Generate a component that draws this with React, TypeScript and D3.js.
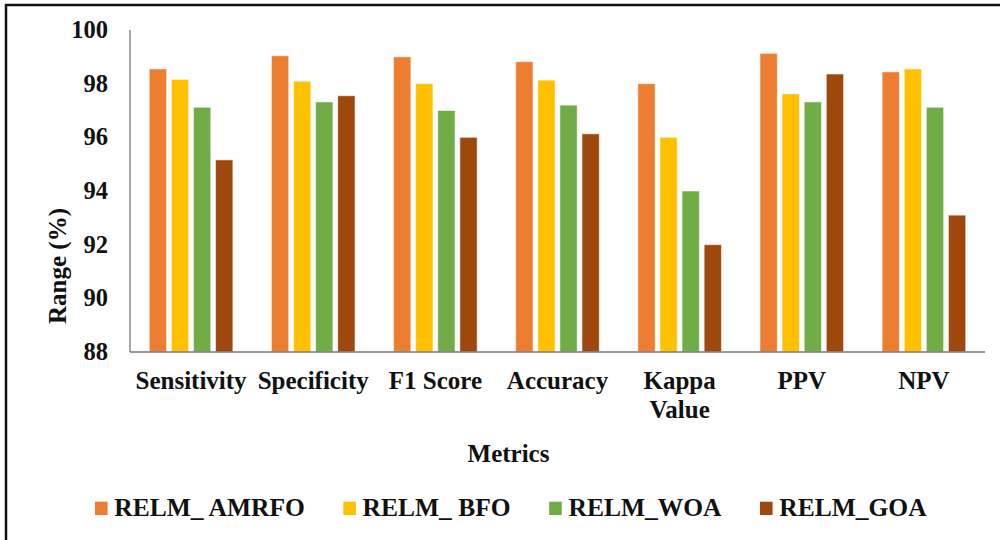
import React, { useEffect, useRef } from "react";
import * as d3 from "d3";

const categories = ["Sensitivity", "Specificity", "F1 Score", "Accuracy", "Kappa Value", "PPV", "NPV"];
const categoryLines = [["Sensitivity"], ["Specificity"], ["F1 Score"], ["Accuracy"], ["Kappa", "Value"], ["PPV"], ["NPV"]];
const seriesNames = ["RELM_ AMRFO", "RELM_ BFO", "RELM_WOA", "RELM_GOA"];
const seriesColors = ["#ED7D31", "#FFC000", "#70AD47", "#9E480E"];
const amrfo = [98.55, 99.04, 99.0, 98.82, 98.0, 99.13, 98.44];
const bfo = [98.16, 98.09, 98.0, 98.13, 96.0, 97.62, 98.55];
const woa = [97.12, 97.32, 97.0, 97.2, 94.0, 97.32, 97.12];
const goa = [95.16, 97.55, 96.0, 96.13, 92.0, 98.36, 93.1];
const yTicks = [88, 90, 92, 94, 96, 98, 100];

const FONT = "'Liberation Serif', 'Times New Roman', Times, serif";

export default function App() {
  const ref = useRef<SVGGElement>(null);
  const W = 1000, H = 540;
  const x0 = 130, x1 = 985, yTop = 30, yBase = 352;
  const y = d3.scaleLinear().domain([88, 100]).range([yBase, yTop]);
  const xb = d3.scaleBand<string>().domain(categories).range([x0, x1]).padding(0);
  const xs = d3.scaleBand<string>().domain(seriesNames).range([-41.8, 41.8]).paddingInner(0.217).paddingOuter(0);
  const allSeries = [amrfo, bfo, woa, goa];
  const textStyle = { fontFamily: FONT, fontWeight: 700 as const };

  useEffect(() => {
    const lg = d3.select(ref.current);
    const items: { g: any; w: number }[] = [];
    lg.selectAll<SVGGElement, unknown>("g.item").each(function () {
      const t = d3.select(this).select("text").node() as SVGTextElement;
      items.push({ g: d3.select(this), w: 19.3 + t.getComputedTextLength() });
    });
    const gap = 38.5;
    const total = items.reduce((s, it) => s + it.w, 0) + gap * (items.length - 1);
    let cur = 510.8 - total / 2;
    items.forEach((it) => {
      it.g.attr("transform", `translate(${cur},516)`);
      cur += it.w + gap;
    });
  }, []);

  return (
    <svg width={W} height={H} style={{ display: "block", position: "absolute", left: 0, top: 0 }}>
      <rect width={W} height={H} fill="#fff" />
      <path d={`M6,${H + 10} L6,5 L${W + 10},5`} fill="none" stroke="#111" strokeWidth={2.5} />
      <line x1={x0} x2={x0} y1={yTop} y2={yBase} stroke="#7a7a7a" strokeWidth={1.3} />
      {allSeries.map((vals, si) => (
        <g key={si}>
          {vals.map((v, i) => (
            <rect
              key={i}
              x={(xb(categories[i]) as number) + xb.bandwidth() / 2 + (xs(seriesNames[si]) as number)}
              width={xs.bandwidth()}
              y={y(v)}
              height={yBase - y(v)}
              fill={seriesColors[si]}
              stroke="#fff"
              strokeOpacity={0.55}
              strokeWidth={1}
            />
          ))}
        </g>
      ))}
      <line x1={x0} x2={x1} y1={yBase} y2={yBase} stroke="#7a7a7a" strokeWidth={1.3} />
      {yTicks.map((t) => (
        <text key={t} x={108} y={y(t)} dy="0.33em" textAnchor="end" fontSize={24.5} fill="#111" style={textStyle}>
          {t}
        </text>
      ))}
      {categoryLines.map((lines, i) => {
        const cx = (xb(categories[i]) as number) + xb.bandwidth() / 2;
        return lines.map((ln, li) => (
          <text key={`${i}-${li}`} x={cx} y={389 + li * 29} textAnchor="middle" fontSize={25} fill="#111" style={textStyle}>
            {ln}
          </text>
        ));
      })}
      <text x={508.5} y={461.5} textAnchor="middle" fontSize={25} fill="#111" style={textStyle}>
        Metrics
      </text>
      <text transform="translate(66,266) rotate(-90)" textAnchor="middle" fontSize={25} fill="#111" style={textStyle}>
        Range (%)
      </text>
      <g ref={ref}>
        {seriesNames.map((name, i) => (
          <g className="item" key={name} transform={`translate(${100 + i * 220},516)`}>
            <rect x={0} y={-14.3} width={12.6} height={13.3} fill={seriesColors[i]} />
            <text x={19.3} y={0} fontSize={25.5} fill="#111" style={textStyle}>
              {name}
            </text>
          </g>
        ))}
      </g>
    </svg>
  );
}
